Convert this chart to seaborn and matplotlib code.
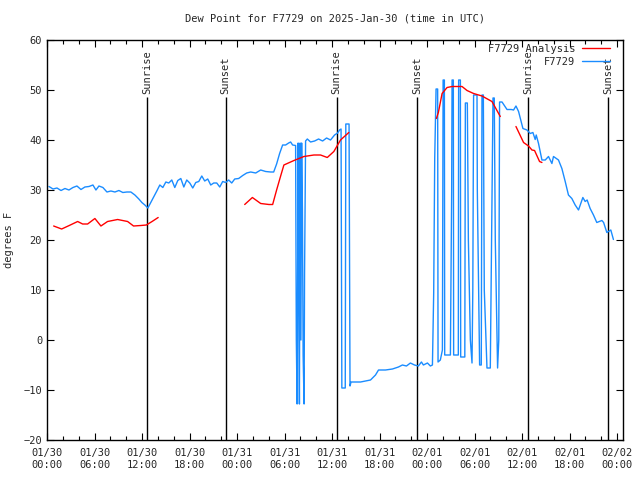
import numpy as np
import pandas as pd
import matplotlib
matplotlib.use("Agg")
import matplotlib.pyplot as plt
import seaborn as sns

# hours since 2025-01-30 00:00 UTC
obs_hours = [0.25, 0.76, 1.26, 1.77, 2.27, 2.77, 3.28, 3.78, 4.29, 4.79, 5.30, 5.80, 6.18, 6.56, 7.06,
             7.57, 8.07, 8.58, 9.08, 9.58, 10.09, 10.59, 11.10, 11.60, 11.98, 12.36, 12.74, 13.11, 13.49,
             13.87, 14.25, 14.63, 15.01, 15.38, 15.76, 16.14, 16.52, 16.90, 17.28, 17.65, 18.03, 18.41,
             18.79, 19.17, 19.55, 19.92, 20.30, 20.68, 21.06, 21.44, 21.82, 22.19, 22.57, 22.95, 23.33,
             23.71, 24.21, 24.72, 25.22, 25.73, 26.36, 26.99, 27.62, 28.25, 28.63, 29.00, 29.38, 29.76,
             30.14, 30.52, 30.77, 31.02, 31.40, 31.49, 31.59, 31.72, 31.80, 31.88, 31.97, 32.07, 32.16,
             32.26, 32.35, 32.47, 32.53, 32.66, 32.88, 33.29, 33.80, 34.30, 34.81, 35.31, 35.81, 36.32,
             36.70, 36.95, 37.14, 37.24, 37.67, 37.74, 38.15, 38.27, 38.40, 38.97, 39.60, 40.23, 40.86,
             41.49, 41.87, 42.75, 43.63, 44.39, 44.89, 45.40, 45.90, 46.41, 46.91, 47.29, 47.54, 48.05,
             48.42, 48.68, 48.84, 48.97, 49.14, 49.34, 49.39, 49.68, 49.94, 50.03, 50.19, 50.23, 50.95,
             51.11, 51.16, 51.32, 51.36, 51.95, 51.99, 52.21, 52.25, 52.77, 52.84, 53.09, 53.22, 53.47,
             53.68, 53.78, 53.88, 54.31, 54.35, 54.64, 54.85, 54.94, 55.11, 55.23, 55.57, 55.99, 56.33,
             56.49, 56.62, 56.91, 57.06, 57.16, 57.47, 58.10, 58.64, 58.93, 59.23, 59.56, 59.84, 60.11,
             60.62, 61.03, 61.37, 61.66, 61.79, 62.08, 62.51, 62.93, 63.34, 63.77, 63.97, 64.60, 65.03,
             65.45, 65.86, 66.29, 66.71, 67.13, 67.68, 67.97, 68.22, 68.60, 69.02, 69.44, 70.08, 70.30,
             70.71, 71.21, 71.54]
obs_dewpt = [30.7, 30.2, 30.4, 29.9, 30.3, 30.0, 30.5, 30.8, 30.1, 30.6, 30.7, 31.0, 30.0, 30.8, 30.5,
             29.6, 29.8, 29.6, 29.9, 29.5, 29.6, 29.6, 29.0, 28.2, 27.5, 27.0, 26.4, 27.5, 28.6,
             29.8, 31.0, 30.5, 31.6, 31.4, 32.0, 30.5, 31.9, 32.3, 30.6, 32.0, 31.4, 30.4,
             31.5, 31.7, 32.8, 31.8, 32.2, 31.0, 31.4, 31.4, 30.6, 31.7, 31.5, 32.0, 31.4,
             32.2, 32.3, 32.9, 33.4, 33.6, 33.4, 34.0, 33.7, 33.6, 33.6, 35.2, 37.3, 39.0,
             39.0, 39.4, 39.6, 39.0, 38.9, 0.0, -12.8, 39.4, 10.0, -12.8, 39.4, 0.0, 39.4,
             26.0, -3.0, -12.8, 13.0, 39.8, 40.2, 39.6, 39.8, 40.2, 39.8, 40.4, 40.0, 41.0,
             41.4, 42.0, 42.2, -9.6, -9.6, 43.2, 43.2, -9.2, -8.4, -8.4, -8.4, -8.2, -8.0,
             -7.0, -6.0, -6.0, -5.8, -5.4, -5.0, -5.2, -4.6, -5.0, -5.2, -4.4, -5.0, -4.6,
             -5.2, -5.0, 9.4, 36.4, 50.2, 50.2, -4.4, -4.0, -2.0, 52.0, 52.0, -3.0, -3.0,
             30.0, 52.0, 52.0, -3.0, -3.0, 52.0, 52.0, -3.4, -3.4, 47.4, 47.4, 20.0, 0.0,
             -4.6, 10.0, 49.0, 49.0, 30.0, -5.0, -5.0, 49.0, 49.0, 10.0, -5.6, -5.6, 48.4,
             48.4, 20.0, -5.6, 0.0, 47.6, 47.6, 46.1, 46.1, 46.0, 46.8, 45.7, 44.0, 42.3,
             42.0, 41.3, 41.5, 40.1, 41.0, 39.3, 36.0, 36.0, 36.7, 35.3, 36.7, 36.0, 34.3,
             31.7, 29.0, 28.3, 27.0, 26.0, 28.5, 27.7, 28.0, 26.3, 25.0, 23.5, 23.9, 23.5,
             21.5, 22.0, 20.1]

# analysis series, segments separated by gaps
ana_hours = [0.84, 1.85, 2.81, 3.87, 4.50, 5.13, 6.05, 6.81, 7.65, 8.92, 10.18, 10.93, 11.85, 12.55, 13.27, 14.04,
             24.97, 25.94, 26.99, 28.03, 28.50, 29.00, 29.51, 29.92, 31.19, 32.45, 33.71, 34.55, 35.40, 36.23, 37.07, 38.12,
             49.18, 49.43, 49.90, 50.53, 51.16, 52.42, 53.05, 53.88, 54.94, 56.20, 57.25,
             59.23, 60.19, 60.82, 61.25, 61.58, 62.21, 62.51]
ana_dewpt = [22.8, 22.2, 22.9, 23.7, 23.2, 23.2, 24.3, 22.8, 23.7, 24.1, 23.7, 22.8, 22.9, 23.0, 23.7, 24.5,
             27.1, 28.5, 27.3, 27.1, 27.1, 30.0, 32.8, 35.0, 35.9, 36.7, 37.0, 37.0, 36.5, 37.7, 40.0, 41.5,
             44.3, 45.5, 49.3, 50.5, 50.7, 50.7, 49.9, 49.3, 48.8, 47.7, 44.7,
             42.7, 39.5, 38.8, 38.0, 37.9, 35.7, 35.5]
ana_segment = [0] * 16 + [1] * 16 + [2] * 11 + [3] * 7

sun_hours = [12.61, 22.57, 36.57, 46.78, 60.78, 70.87]
sun_labels = ["Sunrise", "Sunset", "Sunrise", "Sunset", "Sunrise", "Sunset"]

tick_hours = list(range(0, 73, 6))
tick_labels = ["01/30\n00:00", "01/30\n06:00", "01/30\n12:00", "01/30\n18:00",
               "01/31\n00:00", "01/31\n06:00", "01/31\n12:00", "01/31\n18:00",
               "02/01\n00:00", "02/01\n06:00", "02/01\n12:00", "02/01\n18:00",
               "02/02\n00:00"]

sns.set_style("ticks")
plt.rcParams["font.family"] = ["DejaVu Sans Mono"]
FS = 7.5

fig = plt.figure(figsize=(6.4, 4.8), dpi=100)
ax = fig.add_axes([47 / 640, 40 / 480, (623 - 47) / 640, 400 / 480])

obs = pd.DataFrame({"hours": obs_hours, "dewpt": obs_dewpt})
ana = pd.DataFrame({"hours": ana_hours, "dewpt": ana_dewpt, "seg": ana_segment})

ymin, ymax = -20, 60
for h, lab in zip(sun_hours, sun_labels):
    ax.vlines(h, ymin, 48.5, color="black", lw=1.0, zorder=1)
    ax.text(h, 49.3, lab, rotation=90, ha="center", va="bottom", fontsize=FS)

first = True
for seg, d in ana.groupby("seg"):
    sns.lineplot(data=d, x="hours", y="dewpt", ax=ax, color="#ff0000", lw=1.0,
                 estimator=None, sort=False, label="F7729 Analysis" if first else None, zorder=3)
    first = False
sns.lineplot(data=obs, x="hours", y="dewpt", ax=ax, color="#1a8cff", lw=1.0,
             estimator=None, sort=False, label="F7729", zorder=2)

ax.set_xlim(0, 72.75)
ax.set_ylim(ymin, ymax)
ax.set_xticks(tick_hours)
ax.set_xticklabels(tick_labels, fontsize=FS)
ax.set_xticks(np.arange(0, 73, 2), minor=True)
ax.set_yticks(range(-20, 61, 10))
ax.tick_params(axis="y", labelsize=FS)
ax.tick_params(which="both", direction="in", top=True, right=True, color="black", width=0.8)
ax.tick_params(which="major", length=5)
ax.tick_params(which="minor", length=3)
ax.tick_params(axis="x", pad=6)
for s in ax.spines.values():
    s.set_color("black")
    s.set_linewidth(1.0)

ax.set_xlabel("")
ax.set_ylabel("degrees F", fontsize=FS, labelpad=7)
ax.set_title("Dew Point for F7729 on 2025-Jan-30 (time in UTC)", fontsize=FS, pad=13)

ax.legend(loc="upper right", bbox_to_anchor=(1 - 11 / 576, 1 - 2 / 400), frameon=False,
          markerfirst=False, fontsize=FS, handlelength=2.7, handletextpad=0.6,
          labelspacing=0.25, borderaxespad=0.0, borderpad=0.2)

fig.savefig("out.png", dpi=100)
